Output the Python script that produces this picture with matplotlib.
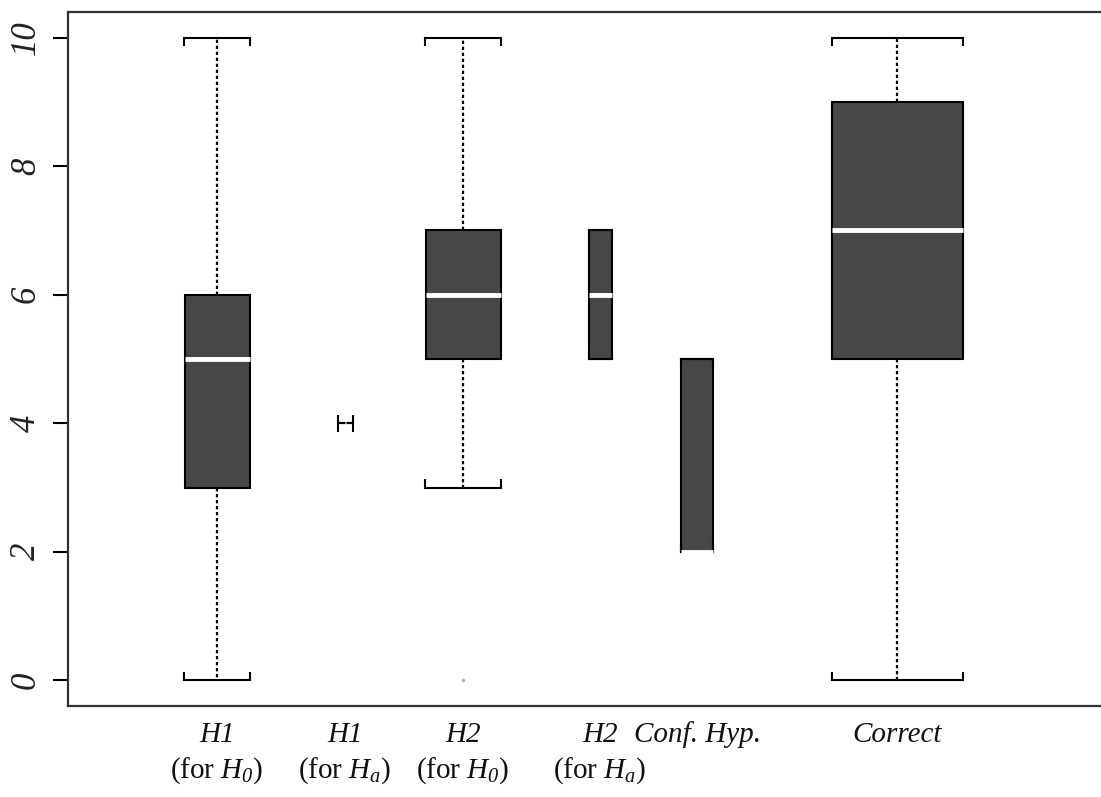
import matplotlib
matplotlib.use("Agg")
import matplotlib.pyplot as plt

plt.rcParams['font.family'] = ['Liberation Serif', 'DejaVu Serif']
plt.rcParams['mathtext.fontset'] = 'custom'
plt.rcParams['mathtext.rm'] = 'Liberation Serif:italic'
plt.rcParams['mathtext.it'] = 'Liberation Serif:italic'

# groups and their five-number summaries
names = ['H1', 'H1', 'H2', 'H2', 'Conf. Hyp.', 'Correct']
subs = ['(for $H_0$)', '(for $H_a$)', '(for $H_0$)', '(for $H_a$)', '', '']
whislo = [0, 4, 3, 5, 2, 0]
q1 = [3, 4, 5, 5, 2, 5]
med = [5, 4, 6, 6, 2, 7]
q3 = [6, 4, 7, 7, 5, 9]
whishi = [10, 4, 10, 7, 5, 10]
fliers = [[], [], [0], [], [], []]

# layout (x in hundreds of pixels)
positions = [2.17, 3.45, 4.63, 6.00, 6.97, 8.97]
widths = [0.65, 0.01, 0.75, 0.23, 0.32, 1.31]
capw = [0.66, 0.15, 0.76, 0.23, 0.32, 1.31]

stats = []
for i in range(len(names)):
    stats.append(dict(whislo=whislo[i], q1=q1[i], med=med[i], q3=q3[i],
                      whishi=whishi[i], fliers=fliers[i]))

fig = plt.figure(figsize=(11.01, 7.97), dpi=100)
x0, x1 = 0.68, 12.0
ax = fig.add_axes([68 / 1101, 1 - 706 / 797, (1200 - 68) / 1101, (706 - 12) / 797])
ax.patch.set_visible(False)

ax.bxp(stats, positions=positions, widths=widths, capwidths=capw,
       patch_artist=True, manage_ticks=False,
       boxprops=dict(facecolor='#474747', edgecolor='black', linewidth=1.5),
       medianprops=dict(color='white', linewidth=3.5),
       whiskerprops=dict(color='black', linewidth=1.6, linestyle=(0, (1.5, 1.2))),
       capprops=dict(color='black', linewidth=1.5),
       flierprops=dict(marker='.', markersize=3, markerfacecolor='#b0b0b0',
                       markeredgecolor='#b0b0b0'))

# little end ticks on the caps, pointing toward the box
for i in range(len(names)):
    for y, d in [(whishi[i], -0.13), (whislo[i], 0.13)]:
        for s in (-1, 1):
            xe = positions[i] + s * capw[i] / 2
            ax.plot([xe, xe], [y, y + d], color='black', lw=1.5,
                    solid_capstyle='butt')

ax.set_xlim(x0, x1)
ax.set_ylim(-0.4, 10.4)
ax.set_xticks([])
ax.set_yticks([0, 2, 4, 6, 8, 10])
ax.set_yticklabels(['0', '2', '4', '6', '8', '10'], rotation=90,
                   va='center', fontsize=25, fontstyle='italic', color='#222222')
ax.tick_params(axis='y', length=11, width=1.5, pad=7, right=False)
for sp in ['left', 'top', 'bottom']:
    ax.spines[sp].set_linewidth(1.6)
    ax.spines[sp].set_color('#333333')
ax.spines['right'].set_visible(False)

for i in range(len(names)):
    xf = (68 + (positions[i] - x0) * 100) / 1101
    fig.text(xf, 1 - 742 / 797, names[i], ha='center', va='baseline',
             fontsize=21, fontstyle='italic', color='#111111')
    if subs[i]:
        fig.text(xf, 1 - 778 / 797, subs[i], ha='center', va='baseline',
                 fontsize=21, color='#111111')

fig.savefig('out.png', dpi=100)
